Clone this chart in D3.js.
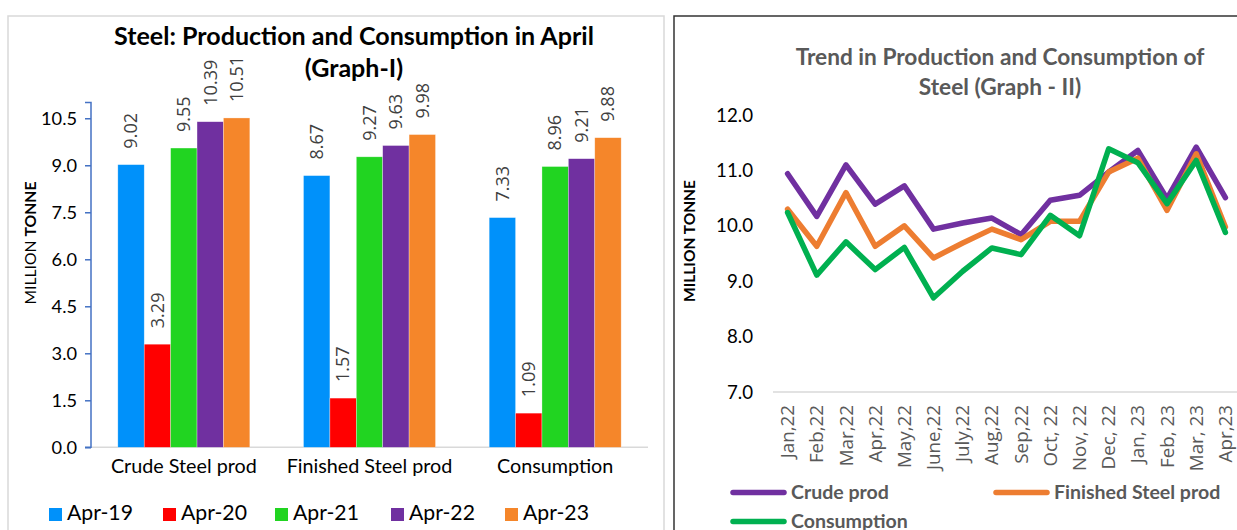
<!DOCTYPE html>
<html>
<head>
<meta charset="utf-8">
<script src="https://cdn.jsdelivr.net/npm/d3@7"></script>
<style>
  html, body { margin: 0; padding: 0; background: #fff; }
  svg { display: block; }
</style>
</head>
<body>
<svg id="chart" width="1237" height="530"></svg>
<script>
// ---------- DATA ----------
const barCategories = ["Crude Steel prod", "Finished Steel prod", "Consumption"];
const barSeriesNames = ["Apr-19", "Apr-20", "Apr-21", "Apr-22", "Apr-23"];
const apr19 = [9.02, 8.67, 7.33];
const apr20 = [3.29, 1.57, 1.09];
const apr21 = [9.55, 9.27, 8.96];
const apr22 = [10.39, 9.63, 9.21];
const apr23 = [10.51, 9.98, 9.88];
const barTicks = [0, 1.5, 3.0, 4.5, 6.0, 7.5, 9.0, 10.5];

const months = ["Jan,22", "Feb,22", "Mar,22", "Apr,22", "May,22", "June,22", "July,22", "Aug,22",
                "Sep,22", "Oct, 22", "Nov, 22", "Dec, 22", "Jan, 23", "Feb, 23", "Mar, 23", "Apr,23"];
const crudeProd    = [10.94, 10.17, 11.10, 10.39, 10.72, 9.94, 10.05, 10.14, 9.84, 10.46, 10.55, 10.97, 11.36, 10.49, 11.42, 10.51];
const finishedProd = [10.30, 9.63, 10.60, 9.63, 10.00, 9.42, 9.69, 9.94, 9.75, 10.08, 10.08, 10.97, 11.22, 10.28, 11.30, 9.98];
const consumption  = [10.24, 9.11, 9.71, 9.21, 9.61, 8.70, 9.18, 9.60, 9.48, 10.19, 9.82, 11.39, 11.14, 10.40, 11.18, 9.88];
const lineTicks = [7, 8, 9, 10, 11, 12];
const lineSeriesNames = ["Crude prod", "Finished Steel prod", "Consumption"];

// ---------- STYLE ----------
const barColors = ["#0091FA", "#FF0000", "#21D421", "#7030A0", "#F5862A"];
const lineColors = ["#7030A0", "#ED7D31", "#00B050"];
const CAL = "Lato, 'Open Sans', sans-serif";
const SEG = "'Open Sans', 'Noto Sans', sans-serif";

const svg = d3.select("#chart");

// fit a group of texts so that a reference text reaches a target width
function fitGroup(sel, refNode, target) {
  const base = 16;
  sel.attr("font-size", base);
  const w = refNode.getComputedTextLength();
  sel.attr("font-size", base * target / w);
}

// ---------- PANELS ----------
svg.append("rect").attr("x", 8).attr("y", 16).attr("width", 656).attr("height", 540)
  .attr("fill", "none").attr("stroke", "#d9d9d9").attr("stroke-width", 1.5);
svg.append("rect").attr("x", 674).attr("y", 16).attr("width", 600).attr("height", 540)
  .attr("fill", "none").attr("stroke", "#333").attr("stroke-width", 1.5);

// ================= GRAPH I =================
const L = { left: 91, right: 648, top: 102.6, bottom: 447.3 };
const yB = d3.scaleLinear().domain([0, 11]).range([L.bottom, L.top]);
const x0 = d3.scaleBand().domain(barCategories).range([L.left, L.right]).paddingInner(0).paddingOuter(0);
const bw = x0.bandwidth();
const gw = 132;
const x1 = d3.scaleBand().domain(barSeriesNames).range([(bw - gw) / 2, (bw + gw) / 2]).padding(0);
const barSeries = [apr19, apr20, apr21, apr22, apr23];

const gB = svg.append("g");
// x axis line
gB.append("line").attr("x1", L.left).attr("x2", L.right).attr("y1", L.bottom).attr("y2", L.bottom)
  .attr("stroke", "#d9d9d9").attr("stroke-width", 1.5);

// bars
barSeries.forEach((vals, si) => {
  gB.selectAll(null).data(vals).enter().append("rect")
    .attr("x", (d, i) => x0(barCategories[i]) + x1(barSeriesNames[si]))
    .attr("y", d => yB(d))
    .attr("width", x1.bandwidth())
    .attr("height", d => yB(0) - yB(d))
    .attr("fill", barColors[si])
    .attr("stroke", "#ffffff").attr("stroke-opacity", 0.5).attr("stroke-width", 0.6);
});

// data labels
const dl = gB.append("g");
barSeries.forEach((vals, si) => {
  dl.selectAll(null).data(vals).enter().append("text")
    .attr("transform", (d, i) => {
      const cx = x0(barCategories[i]) + x1(barSeriesNames[si]) + x1.bandwidth() / 2;
      return `translate(${cx},${yB(d) - 16}) rotate(-90)`;
    })
    .attr("dy", "0.35em")
    .attr("text-anchor", "start")
    .attr("font-family", SEG)
    .attr("fill", "#404040")
    .text(d => d.toFixed(2));
});
{
  const all = dl.selectAll("text");
  const ref = all.filter(d => d === 10.51).node();
  fitGroup(all, ref, 46);
}

// y axis (left, blue)
const yAxisB = d3.axisLeft(yB).tickValues(barTicks).tickSize(6).tickFormat(d3.format(".1f"));
const gyB = gB.append("g").attr("transform", `translate(${L.left},0)`).call(yAxisB);
gyB.select(".domain").attr("stroke", "#4472C4").attr("stroke-width", 1.5).attr("d", `M-6,${L.top}H0V${L.bottom}H-6`);
gyB.selectAll(".tick line").attr("stroke", "#4472C4").attr("stroke-width", 1.5);
gyB.selectAll(".tick text").attr("x", -14).attr("fill", "#000").attr("font-family", CAL);
{
  const all = gyB.selectAll(".tick text");
  fitGroup(all, all.filter(d => d === 10.5).node(), 36);
}

// category labels
const cl = gB.append("g");
cl.selectAll("text").data(barCategories).enter().append("text")
  .attr("x", d => x0(d) + bw / 2).attr("y", 473)
  .attr("text-anchor", "middle").attr("font-family", CAL).attr("fill", "#000")
  .text(d => d);
fitGroup(cl.selectAll("text"), cl.select("text").node(), 146);

// y axis title
const ytB = gB.append("text").attr("transform", "translate(30,243) rotate(-90)")
  .attr("text-anchor", "middle").attr("dy", "0.35em").attr("font-family", CAL).attr("fill", "#000");
ytB.append("tspan").text("MILLION ");
ytB.append("tspan").attr("font-weight", "bold").text("TONNE");
fitGroup(ytB, ytB.node(), 123);

// title
const tB = gB.append("g").attr("font-family", CAL).attr("font-weight", "bold").attr("fill", "#000");
const tB1 = tB.append("text").attr("x", 354).attr("y", 45).attr("text-anchor", "middle").text("Steel: Production and Consumption in April");
tB.append("text").attr("x", 354).attr("y", 77).attr("text-anchor", "middle").text("(Graph-I)");
fitGroup(tB.selectAll("text"), tB1.node(), 480);

// legend
const legB = gB.append("g");
const legX = [49, 163, 275, 391, 505];
barSeriesNames.forEach((n, i) => {
  legB.append("rect").attr("x", legX[i]).attr("y", 508).attr("width", 13).attr("height", 13).attr("fill", barColors[i]);
  legB.append("text").attr("x", legX[i] + 18).attr("y", 520).attr("font-family", CAL).attr("fill", "#000").text(n);
});
{
  const all = legB.selectAll("text");
  fitGroup(all, all.nodes()[1], 66);
}

// ================= GRAPH II =================
const R = { left: 773, right: 1240, top: 115, bottom: 392 };
const yL = d3.scaleLinear().domain([7, 12]).range([R.bottom, R.top]);
const xL = d3.scaleBand().domain(months).range([R.left, R.right]).padding(0);
const gL = svg.append("g");

gL.append("line").attr("x1", R.left).attr("x2", R.right).attr("y1", R.bottom).attr("y2", R.bottom)
  .attr("stroke", "#d9d9d9").attr("stroke-width", 1.5);

// y ticks
const ytk = gL.append("g");
ytk.selectAll("text").data(lineTicks).enter().append("text")
  .attr("x", 753).attr("y", d => yL(d)).attr("dy", "0.35em")
  .attr("text-anchor", "end").attr("font-family", CAL).attr("fill", "#000")
  .text(d => d3.format(".1f")(d));
fitGroup(ytk.selectAll("text"), ytk.selectAll("text").nodes()[5], 37);

// x labels
const xtk = gL.append("g");
xtk.selectAll("text").data(months).enter().append("text")
  .attr("transform", d => `translate(${xL(d) + xL.bandwidth() / 2},405) rotate(-90)`)
  .attr("dy", "0.35em").attr("text-anchor", "end")
  .attr("font-family", SEG).attr("fill", "#595959")
  .text(d => d);
fitGroup(xtk.selectAll("text"), xtk.selectAll("text").nodes()[5], 65);

// lines
const lineGen = d3.line().x((d, i) => xL(months[i]) + xL.bandwidth() / 2).y(d => yL(d));
[crudeProd, finishedProd, consumption].forEach((vals, i) => {
  gL.append("path").datum(vals).attr("d", lineGen)
    .attr("fill", "none").attr("stroke", lineColors[i]).attr("stroke-width", 5.5)
    .attr("stroke-linejoin", "round").attr("stroke-linecap", "round");
});

// y title
const ytL = gL.append("text").attr("transform", "translate(690,241) rotate(-90)")
  .attr("text-anchor", "middle").attr("dy", "0.35em").attr("font-family", CAL)
  .attr("font-weight", "bold").attr("fill", "#000").text("MILLION TONNE");
fitGroup(ytL, ytL.node(), 122);

// title
const tL = gL.append("g").attr("font-family", CAL).attr("font-weight", "bold").attr("fill", "#595959");
const tL1 = tL.append("text").attr("x", 1000).attr("y", 65).attr("text-anchor", "middle").text("Trend in Production and Consumption of");
tL.append("text").attr("x", 1000).attr("y", 95).attr("text-anchor", "middle").text("Steel (Graph - II)");
fitGroup(tL.selectAll("text"), tL1.node(), 409);

// legend
const legL = gL.append("g");
const legPos = [[731, 492.5], [994, 492.5], [731, 521.5]];
lineSeriesNames.forEach((n, i) => {
  const [lx, ly] = legPos[i];
  legL.append("line").attr("x1", lx + 2).attr("x2", lx + 53).attr("y1", ly).attr("y2", ly)
    .attr("stroke", lineColors[i]).attr("stroke-width", 5.5).attr("stroke-linecap", "round");
  legL.append("text").attr("x", lx + 60).attr("y", ly).attr("dy", "0.35em")
    .attr("font-family", CAL).attr("font-weight", "bold").attr("fill", "#595959").text(n);
});
fitGroup(legL.selectAll("text"), legL.selectAll("text").nodes()[0], 98);
</script>
</body>
</html>
